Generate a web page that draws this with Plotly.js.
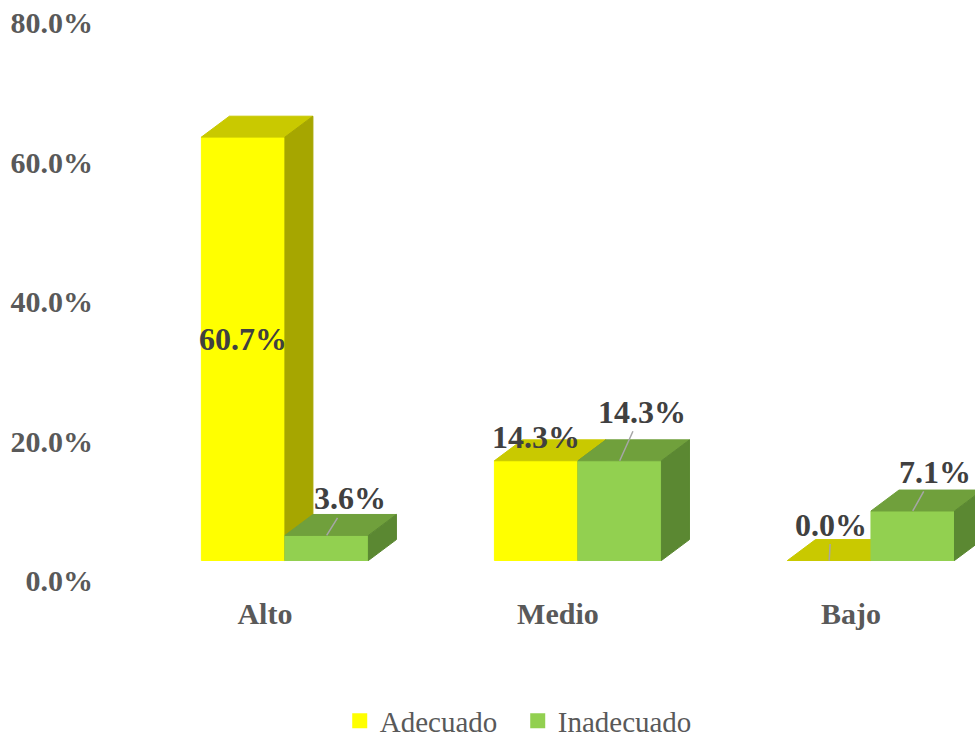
<!DOCTYPE html>
<html>
<head>
<meta charset="utf-8">
<script src="https://cdn.plot.ly/plotly-3.0.1.min.js"></script>
<style>html,body{margin:0;padding:0;background:#fff;}#chart{width:975px;height:738px;}</style>
</head>
<body>
<div id="chart"></div>
<script>
// ---- data ----
const categories = ['Alto', 'Medio', 'Bajo'];
const seriesNames = ['Adecuado', 'Inadecuado'];
const adecuado = [60.7, 14.3, 0.0];
const inadecuado = [3.6, 14.3, 7.1];
const yTicks = [0, 20, 40, 60, 80];
const yTickText = yTicks.map(v => v.toFixed(1) + '%');

// ---- styling / geometry constants ----
const FONT = '"Liberation Serif", "Times New Roman", serif';
const W = 0.285;     // bar width in category units
const DX = 0.0956;   // depth offset x (category units)
const DY = 3.0;      // depth offset y (% units)
const colors = [
  {front: '#FFFF00', top: '#C9C900', side: '#A6A600'},
  {front: '#92D050', top: '#70A03C', side: '#5B8832'}
];

function facePolys(vals, s) {
  const fr = {x: [], y: []}, tp = {x: [], y: []}, sd = {x: [], y: []};
  vals.forEach((v, i) => {
    const xl = i + (s === 0 ? -W : 0), xr = xl + W;
    fr.x.push(xl, xl, xr, xr, xl, null); fr.y.push(0, v, v, 0, 0, null);
    tp.x.push(xl, xl + DX, xr + DX, xr, xl, null); tp.y.push(v, v + DY, v + DY, v, v, null);
    sd.x.push(xr, xr, xr + DX, xr + DX, xr, null); sd.y.push(0, v, v + DY, DY, 0, null);
  });
  return [fr, tp, sd];
}

const traces = [];
[adecuado, inadecuado].forEach((vals, s) => {
  const [fr, tp, sd] = facePolys(vals, s);
  const c = colors[s];
  [[fr, c.front], [tp, c.top], [sd, c.side]].forEach(([p, col]) => {
    traces.push({type: 'scatter', mode: 'lines', x: p.x, y: p.y, fill: 'toself',
      fillcolor: col, line: {color: col, width: 1}, hoverinfo: 'skip', showlegend: false});
  });
});
// legend entries
[0, 1].forEach(s => traces.push({type: 'scatter', mode: 'markers', x: [null], y: [null],
  name: seriesNames[s], marker: {symbol: 'square', size: 15, color: colors[s].front}, showlegend: true}));
// invisible trace for label axes
traces.push({type: 'scatter', mode: 'markers', x: categories, y: [0, 0, 0], xaxis: 'x2', yaxis: 'y2',
  marker: {opacity: 0}, hoverinfo: 'skip', showlegend: false});

// data labels
const labelCfg = [
  [{mode: 'center', yshift: 10}, {ax: 23, ay: -37}],
  [{mode: 'above', yshift: 24}, {ax: 22, ay: -49}],
  [{ax: 2, ay: -36}, {ax: 22, ay: -39}]
];
const annotations = [];
[adecuado, inadecuado].forEach((vals, s) => {
  vals.forEach((v, i) => {
    const cfg = labelCfg[i][s];
    const xc = i + (s === 0 ? -W / 2 : W / 2);
    const a = {x: xc, xref: 'x', yref: 'y', text: v.toFixed(1) + '%',
      font: {family: FONT, size: 32, color: '#404040', weight: 'bold'}};
    if (cfg.mode === 'center') { a.y = v / 2; a.showarrow = false; a.yshift = cfg.yshift; }
    else if (cfg.mode === 'above') { a.y = v; a.showarrow = false; a.yshift = cfg.yshift; }
    else { a.y = v; a.showarrow = true; a.arrowhead = 0; a.arrowwidth = 1.5; a.arrowcolor = '#A6A6A6';
      a.ax = cfg.ax; a.ay = cfg.ay; a.standoff = 0; }
    annotations.push(a);
  });
});

const S = 6.975; // px per %
const layout = {
  width: 975, height: 738,
  margin: {l: 100, r: 0, t: 10, b: 138, autoexpand: false},
  paper_bgcolor: '#fff', plot_bgcolor: '#fff',
  font: {family: FONT, color: '#595959'},
  showlegend: true,
  legend: {orientation: 'h', x: 0.4774, xanchor: 'center', y: -0.205, yanchor: 'middle',
    font: {family: FONT, size: 29, color: '#595959'}, itemwidth: 30, entrywidth: 133},
  xaxis: {range: [-0.631, 2.355], showgrid: false, zeroline: false, showline: false,
    showticklabels: false, ticks: ''},
  yaxis: {range: [-5.663, 78.925], showgrid: false, zeroline: false, showline: false,
    showticklabels: false, ticks: ''},
  xaxis2: {overlaying: 'x', anchor: 'free', position: 0.012, type: 'category', range: [-0.5627, 2.4233],
    showgrid: false, zeroline: false, showline: false, ticks: '',
    tickfont: {family: FONT, size: 30, color: '#595959', weight: 'bold'}},
  yaxis2: {overlaying: 'y', anchor: 'x2', range: [-5.663 + 20 / S, 78.925 + 20 / S],
    tickmode: 'array', tickvals: yTicks, ticktext: yTickText, showgrid: false, zeroline: false,
    showline: false, ticks: '', ticklabelstandoff: 6,
    tickfont: {family: FONT, size: 30, color: '#595959', weight: 'bold'}},
  annotations: annotations
};

Plotly.newPlot('chart', traces, layout, {displayModeBar: false, staticPlot: true});
</script>
</body>
</html>
